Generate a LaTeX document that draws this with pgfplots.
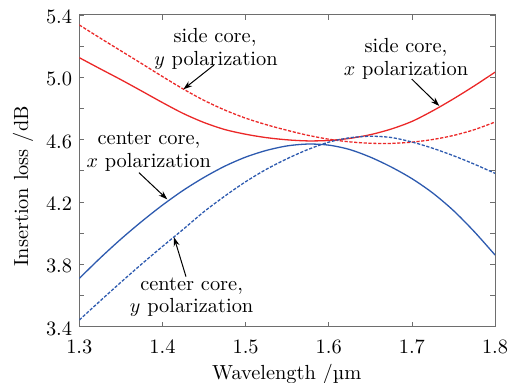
\documentclass[border=0pt]{standalone}
\usepackage{pgfplots}
\pgfplotsset{compat=1.18}
\usetikzlibrary{arrows.meta}
\definecolor{cred}{RGB}{235,40,40}
\definecolor{cblue}{RGB}{45,90,175}
\definecolor{axgray}{RGB}{110,110,110}

\pgfplotstableread{
x y
1.300 5.126
1.325 5.055
1.350 4.985
1.375 4.912
1.400 4.838
1.425 4.768
1.450 4.710
1.475 4.665
1.500 4.635
1.525 4.613
1.550 4.599
1.575 4.592
1.600 4.595
1.625 4.608
1.650 4.632
1.675 4.668
1.700 4.717
1.725 4.785
1.750 4.862
1.775 4.945
1.800 5.033
}\sidex

\pgfplotstableread{
x y
1.300 5.336
1.325 5.252
1.350 5.170
1.375 5.088
1.400 5.005
1.425 4.925
1.450 4.852
1.475 4.790
1.500 4.738
1.525 4.696
1.550 4.660
1.575 4.628
1.600 4.603
1.625 4.586
1.650 4.577
1.675 4.576
1.700 4.584
1.725 4.601
1.750 4.627
1.775 4.664
1.800 4.713
}\sidey

\pgfplotstableread{
x y
1.300 3.710
1.325 3.840
1.350 3.962
1.375 4.075
1.400 4.180
1.425 4.275
1.450 4.358
1.475 4.430
1.500 4.488
1.525 4.531
1.550 4.560
1.575 4.572
1.600 4.565
1.625 4.537
1.650 4.488
1.675 4.425
1.700 4.350
1.725 4.258
1.750 4.145
1.775 4.010
1.800 3.860
}\centerx

\pgfplotstableread{
x y
1.300 3.443
1.325 3.565
1.350 3.685
1.375 3.802
1.400 3.915
1.425 4.025
1.450 4.138
1.475 4.238
1.500 4.330
1.525 4.410
1.550 4.478
1.575 4.537
1.600 4.584
1.625 4.612
1.650 4.622
1.675 4.614
1.700 4.585
1.725 4.545
1.750 4.497
1.775 4.443
1.800 4.384
}\centery

\begin{document}
\fontsize{10.2}{12}\selectfont
\begin{tikzpicture}
\begin{axis}[
  scale only axis,
  width=207.85pt, height=155.85pt,
  xmin=1.3, xmax=1.8, ymin=3.4, ymax=5.4,
  xtick={1.3,1.4,1.5,1.6,1.7,1.8},
  xticklabels={1.3,1.4,1.5,1.6,1.7,1.8},
  ytick={3.4,3.8,4.2,4.6,5.0,5.4},
  yticklabels={3.4,3.8,4.2,4.6,5.0,5.4},
  minor ytick={3.6,4.0,4.4,4.8,5.2},
  tick align=inside,
  major tick length=2.5pt, minor tick length=2.5pt,
  axis line style={axgray, line width=0.5pt},
  every tick/.style={axgray, line width=0.4pt},
  font=\fontsize{10.2}{12}\selectfont,
  /pgf/number format/assume math mode=true,
  xticklabel style={anchor=base, yshift=-13.3pt},
  yticklabel style={yshift=-1pt},
  xlabel={Wavelength /\textmu m},
  ylabel={Insertion loss /dB},
  xlabel style={at={(rel axis cs:0.499,-0.1688)}, anchor=base},
  ylabel style={at={(rel axis cs:-0.1354,0.45)}, anchor=center},
]
\addplot[cred, line width=0.65pt, smooth] table[x=x,y=y] {\sidex};
\addplot[cred, line width=0.65pt, smooth, dash pattern=on 1.6pt off 0.8pt] table[x=x,y=y] {\sidey};
\addplot[cblue, line width=0.65pt, smooth] table[x=x,y=y] {\centerx};
\addplot[cblue, line width=0.65pt, smooth, dash pattern=on 1.6pt off 0.8pt] table[x=x,y=y] {\centery};

\node[anchor=base] at (axis cs:1.4632,5.2236) {side core,};
\node[anchor=base] at (axis cs:1.4644,5.0728) {$y$ polarization};
\node[anchor=base] at (axis cs:1.6929,5.158) {side core,};
\node[anchor=base] at (axis cs:1.6929,5.0118) {$x$ polarization};
\node[anchor=base] at (axis cs:1.3838,4.5659) {center core,};
\node[anchor=base] at (axis cs:1.3835,4.4202) {$x$ polarization};
\node[anchor=base] at (axis cs:1.4351,3.6336) {center core,};
\node[anchor=base] at (axis cs:1.4351,3.4898) {$y$ polarization};

\draw[-{Stealth[length=4.5pt,width=3pt]}, line width=0.5pt] (axis cs:1.462,5.079) -- (axis cs:1.4251,4.923);
\draw[-{Stealth[length=4.5pt,width=3pt]}, line width=0.5pt] (axis cs:1.6998,4.989) -- (axis cs:1.733,4.816);
\draw[-{Stealth[length=4.5pt,width=3pt]}, line width=0.5pt] (axis cs:1.3718,4.388) -- (axis cs:1.4058,4.217);
\draw[-{Stealth[length=4.5pt,width=3pt]}, line width=0.5pt] (axis cs:1.4283,3.721) -- (axis cs:1.4139,3.974);

\coordinate (bbsw) at (rel axis cs:-0.1908,-0.1806);
\coordinate (bbne) at (rel axis cs:1.0745,1.0481);
\end{axis}
\pgfresetboundingbox
\path (bbsw) rectangle (bbne);
\end{tikzpicture}
\end{document}
